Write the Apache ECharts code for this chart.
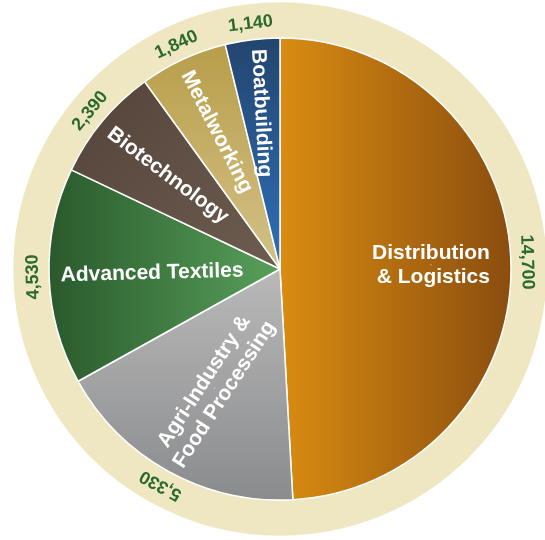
<!DOCTYPE html>
<html>
<head>
<meta charset="utf-8">
<script src="https://cdn.jsdelivr.net/npm/echarts@6/dist/echarts.min.js"></script>
<style>
  html, body { margin: 0; padding: 0; background: #ffffff; }
  #chart { width: 545px; height: 540px; }
</style>
</head>
<body>
<div id="chart"></div>
<script>
// Employment by industry sector
const sectors = [
  'Distribution\n& Logistics',
  'Agri-Industry &\nFood Processing',
  'Advanced Textiles',
  'Biotechnology',
  'Metalworking',
  'Boatbuilding'
];
const jobs = [14700, 5330, 4530, 2390, 1840, 1140];

// Slice fills: [start, end, direction] (h = left→right, v = top→bottom, d = diagonal)
const sliceFills = [
  ['#da8c12', '#8a4d0f', 'h'],
  ['#b9b9b9', '#8a8b8d', 'v'],
  ['#2a592c', '#58a05a', 'h'],
  ['#54433a', '#6d5d50', 'd'],
  ['#b89e4a', '#d3c188', 'v'],
  ['#23456f', '#2f70b7', 'v']
];
// Rotation of each sector name (degrees, counter-clockwise)
const nameRotation = [0, 57, 1.5, -37, -63, -87];
// Distance of each sector name from the pie centre (px)
const nameRadius = [151, 136, 128, 146, 151, 157];

const CENTER = [280, 269];
const PIE_R = 231;
const RING_R = 266;
const RING_FILL = '#efe7c2';
const GREEN = '#2b6a2b';
const FONT = '"Liberation Sans", Arial, Helvetica, sans-serif';

function gradient(f) {
  const [a, b, dir] = f;
  const c = dir === 'h' ? [0, 0, 1, 0] : dir === 'v' ? [0, 0, 0, 1] : [0, 0, 1, 1];
  return new echarts.graphic.LinearGradient(c[0], c[1], c[2], c[3], [
    { offset: 0, color: a },
    { offset: 1, color: b }
  ]);
}

// Cumulative mid point of each slice (in job units) and its angle clockwise from 12 o'clock
const total = jobs.reduce((s, v) => s + v, 0);
let acc = 0;
const midValues = jobs.map(v => {
  const m = acc + v / 2;
  acc += v;
  return m;
});
const midAngles = midValues.map(m => m / total * 360);

const nameLabel = i => ({
  show: true,
  position: 'inside',
  rotate: nameRotation[i],
  color: '#ffffff',
  opacity: 1,
  textBorderWidth: 0,
  fontFamily: FONT,
  fontWeight: 'bold',
  fontSize: 21,
  lineHeight: 24,
  formatter: i === 0
    ? p => p.name.split('\n').map(l => '{r|' + l + '}').join('\n')
    : '{b}',
  rich: i === 0 ? {
    r: { width: 118, align: 'right', color: '#ffffff', fontFamily: FONT, fontWeight: 'bold', fontSize: 21, lineHeight: 24 }
  } : undefined
});

const option = {
  animation: false,
  backgroundColor: '#ffffff',
  // polar frame sharing the pie's centre, used to place the sector names
  polar: { center: CENTER, radius: PIE_R },
  angleAxis: { type: 'value', min: 0, max: total, startAngle: 90, clockwise: true, show: false },
  radiusAxis: { type: 'value', min: 0, max: PIE_R, show: false },
  series: [
    // beige ring carrying the job counts (its inner part lies under the pie)
    {
      type: 'pie',
      center: CENTER,
      radius: [222, RING_R],
      silent: true,
      avoidLabelOverlap: false,
      labelLine: { show: false },
      emphasis: { disabled: true },
      itemStyle: { color: RING_FILL, borderColor: RING_FILL, borderWidth: 1.5 },
      z: 1,
      data: jobs.map((v, i) => ({
        name: sectors[i],
        value: v,
        label: {
          show: true,
          position: 'inside',
          rotate: -midAngles[i],
          color: GREEN,
          fontFamily: FONT,
          fontWeight: 'bold',
          fontSize: 18,
          formatter: p => p.value.toLocaleString('en-US')
        }
      }))
    },
    // main pie
    {
      type: 'pie',
      center: CENTER,
      radius: [0, PIE_R],
      silent: true,
      avoidLabelOverlap: false,
      label: { show: false },
      labelLine: { show: false },
      emphasis: { disabled: true },
      z: 2,
      data: jobs.map((v, i) => ({
        name: sectors[i],
        value: v,
        itemStyle: { color: gradient(sliceFills[i]), borderColor: '#ffffff', borderWidth: 1.5 }
      }))
    },
    // sector names, placed at each slice's mid angle
    {
      type: 'scatter',
      coordinateSystem: 'polar',
      silent: true,
      symbol: 'circle',
      symbolSize: 1,
      itemStyle: { color: '#ffffff', opacity: 1 },
      emphasis: { disabled: true },
      z: 5,
      data: jobs.map((v, i) => ({
        name: sectors[i],
        value: [nameRadius[i], midValues[i]],
        label: nameLabel(i)
      }))
    }
  ]
};

const chart = echarts.init(document.getElementById('chart'), null, { renderer: 'canvas' });
chart.setOption(option);
</script>
</body>
</html>
